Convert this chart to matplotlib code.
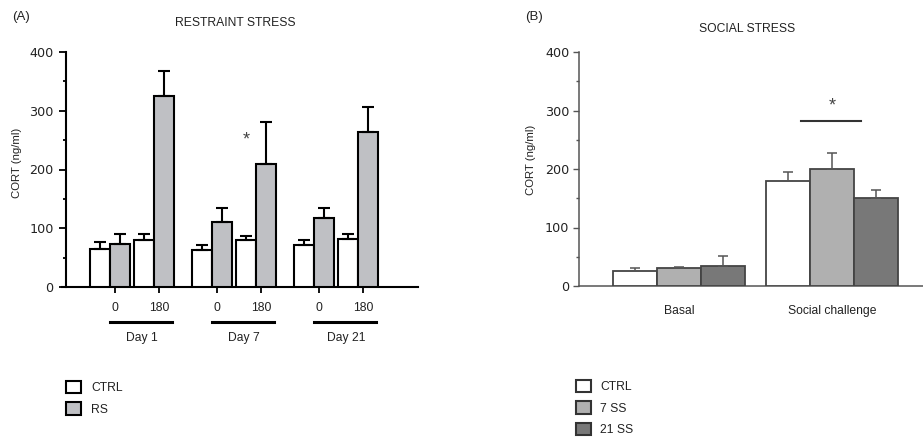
import matplotlib
matplotlib.use("Agg")
import matplotlib.pyplot as plt
import numpy as np
from matplotlib.patches import Patch
from matplotlib.transforms import blended_transform_factory

plt.rcParams['font.family'] = ['Liberation Sans', 'DejaVu Sans']

# ---------------- data ----------------
days = ["Day 1", "Day 7", "Day 21"]
times = ["0", "180"]
# restraint stress: [day][time]
rs_ctrl = [[65, 80], [63, 80], [71, 82]]
rs_ctrl_err = [[12, 10], [8, 7], [9, 8]]
rs_rs = [[73, 325], [111, 210], [117, 263]]
rs_rs_err = [[17, 43], [23, 71], [17, 43]]

ss_groups = ["Basal", "Social challenge"]
ss_series = ["CTRL", "7 SS", "21 SS"]
ss_vals = [[25, 180], [30, 200], [35, 150]]
ss_err = [[5, 15], [2, 28], [16, 14]]

W, H = 923, 437
fig = plt.figure(figsize=(W / 100, H / 100), dpi=100)

def px_axes(l, t, r, b):
    return fig.add_axes([l / W, 1 - b / H, (r - l) / W, (b - t) / H])

txt = '#222222'

# ---------------- Panel A ----------------
axA = px_axes(62, 52, 418, 287)
bw = 1.0
day_starts = [1.4 + 5.1 * d for d in range(3)]
pair_off = [0.0, 2.2]
tick_pos, tick_lab = [], []
for d in range(3):
    for t in range(2):
        left = day_starts[d] + pair_off[t]
        axA.bar(left + 0.5, rs_ctrl[d][t], width=bw, color='white', edgecolor='black',
                linewidth=1.5, zorder=3)
        axA.bar(left + 1.5, rs_rs[d][t], width=bw, color='#bfc0c4', edgecolor='black',
                linewidth=1.5, zorder=3)
        axA.errorbar([left + 0.5, left + 1.5], [rs_ctrl[d][t], rs_rs[d][t]],
                     yerr=[[0, 0], [rs_ctrl_err[d][t], rs_rs_err[d][t]]],
                     fmt='none', ecolor='black', elinewidth=1.5, capsize=4, capthick=1.5,
                     zorder=4)
        tick_pos.append(left + 1.25)
        tick_lab.append(times[t])

axA.set_xlim(0, 17.8)
axA.set_ylim(0, 400)
axA.spines['top'].set_visible(False)
axA.spines['right'].set_visible(False)
axA.spines['left'].set_position(('axes', 4 / 356))
for s in ['left', 'bottom']:
    axA.spines[s].set_linewidth(1.5)
    axA.spines[s].set_color('black')
axA.set_yticks([0, 100, 200, 300, 400])
axA.set_yticks([50, 150, 250, 350], minor=True)
axA.tick_params(axis='y', which='major', length=5, width=1.3, pad=4, labelsize=9.2,
                labelcolor=txt, labelfontfamily='DejaVu Sans')
axA.tick_params(axis='y', which='minor', length=2.5, width=1.3)
axA.set_xticks(tick_pos)
axA.set_xticklabels(tick_lab)
axA.tick_params(axis='x', length=4, width=1.3, pad=7, labelsize=8.7, labelcolor=txt)
axA.set_ylabel("CORT (ng/ml)", fontsize=8.2, color=txt)
axA.yaxis.set_label_coords(-0.112, 0.53)

trA = blended_transform_factory(axA.transData, axA.transAxes)
for d in range(3):
    s = day_starts[d]
    axA.plot([s + 1.0, s + 4.1], [-0.149, -0.149], color='black', lw=2.2,
             transform=trA, clip_on=False)
    axA.text(s + 2.6, -0.215, days[d], transform=trA, ha='center', va='center',
             fontsize=8.7, color=txt)
# asterisk
axA.text(day_starts[1] + 2.2 + 0.5, 250, '*', ha='center', va='center', fontsize=13,
         color='#444444')

fig.text(235 / W, 1 - 23 / H, "RESTRAINT STRESS", ha='center', va='center',
         fontsize=8.7, color=txt)
fig.text(12 / W, 1 - 17 / H, "(A)", ha='left', va='center', fontsize=9.5, color=txt)

legA = fig.legend(handles=[Patch(facecolor='white', edgecolor='black', linewidth=1.5),
                           Patch(facecolor='#bfc0c4', edgecolor='black', linewidth=1.5)],
                  labels=["CTRL", "RS"], loc='upper left',
                  bbox_to_anchor=(66 / W, 1 - 381 / H), frameon=False, fontsize=8.7,
                  handlelength=1.2, handleheight=1.2, handletextpad=0.9,
                  labelspacing=0.66, borderpad=0, borderaxespad=0)
for t in legA.get_texts():
    t.set_color(txt)

# ---------------- Panel B ----------------
axB = px_axes(579, 52, 923, 286)
ss_colors = ['white', '#b0b0b0', '#787878']
edge_b = '#444444'
group_left = [0.77, 4.25]
for i in range(3):
    xs = [g + 0.5 + i for g in group_left]
    axB.bar(xs, ss_vals[i], width=1.0, color=ss_colors[i], edgecolor=edge_b,
            linewidth=1.3, zorder=3)
    axB.errorbar(xs, ss_vals[i], yerr=[[0, 0], ss_err[i]], fmt='none', ecolor='#555555',
                 elinewidth=1.1, capsize=3.5, capthick=1.1, zorder=4)
axB.set_xlim(0, 344 / 44)
axB.set_ylim(0, 400)
axB.spines['top'].set_visible(False)
axB.spines['right'].set_visible(False)
for s in ['left', 'bottom']:
    axB.spines[s].set_linewidth(1.1)
    axB.spines[s].set_color('#555555')
axB.set_yticks([0, 100, 200, 300, 400])
axB.set_yticks([50, 150, 250, 350], minor=True)
axB.tick_params(axis='y', which='major', length=4, width=1, color='#555555', pad=3,
                labelsize=9.2, labelcolor=txt, labelfontfamily='DejaVu Sans')
axB.tick_params(axis='y', which='minor', length=2, width=1, color='#555555')
axB.set_xticks([g + 1.5 for g in group_left])
axB.set_xticklabels(ss_groups)
axB.tick_params(axis='x', length=0, pad=14, labelsize=8.7, labelcolor=txt)
axB.set_ylabel("CORT (ng/ml)", fontsize=8.2, color=txt)
axB.yaxis.set_label_coords(-0.125, 0.54)

axB.plot([5.05, 6.41], [282, 282], color='#333333', lw=1.5)
axB.text(group_left[1] + 1.5, 308, '*', ha='center', va='center', fontsize=13,
         color='#444444')

fig.text(747 / W, 1 - 29 / H, "SOCIAL STRESS", ha='center', va='center',
         fontsize=8.7, color=txt)
fig.text(525 / W, 1 - 17 / H, "(B)", ha='left', va='center', fontsize=9.5, color=txt)

legB = fig.legend(handles=[Patch(facecolor=c, edgecolor='#333333', linewidth=1.5)
                           for c in ss_colors],
                  labels=ss_series, loc='upper left',
                  bbox_to_anchor=(576 / W, 1 - 380 / H), frameon=False, fontsize=8.7,
                  handlelength=1.2, handleheight=1.2, handletextpad=0.8,
                  labelspacing=0.68, borderpad=0, borderaxespad=0)
for t in legB.get_texts():
    t.set_color(txt)

fig.savefig("out.png", dpi=100)
